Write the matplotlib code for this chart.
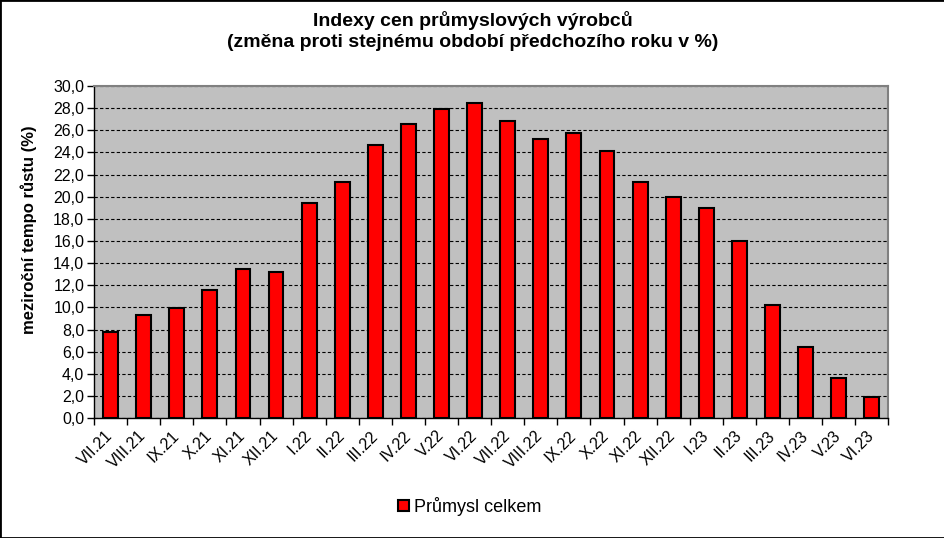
import numpy as np
import matplotlib.pyplot as plt
from matplotlib.patches import Rectangle

plt.rcParams['font.family'] = ['Liberation Sans', 'DejaVu Sans']

months = ['VII.21', 'VIII.21', 'IX.21', 'X.21', 'XI.21', 'XII.21',
          'I.22', 'II.22', 'III.22', 'IV.22', 'V.22', 'VI.22',
          'VII.22', 'VIII.22', 'IX.22', 'X.22', 'XI.22', 'XII.22',
          'I.23', 'II.23', 'III.23', 'IV.23', 'V.23', 'VI.23']
prumysl = [7.8, 9.3, 9.9, 11.6, 13.5, 13.2,
           19.4, 21.3, 24.7, 26.6, 27.9, 28.5,
           26.8, 25.2, 25.8, 24.1, 21.3, 20.0,
           19.0, 16.0, 10.2, 6.4, 3.6, 1.9]
yticks = np.arange(0, 30.1, 2)

fig = plt.figure(figsize=(9.45, 5.38), dpi=100)
ax = fig.add_axes([0.0995, 0.223, 0.8405, 0.617])
ax.set_facecolor('#C0C0C0')

x = np.arange(len(months))
ax.bar(x, prumysl, width=0.45, color='#FF0000', edgecolor='black',
       linewidth=1.5, label='Průmysl celkem', zorder=3)

ax.set_xlim(-0.5, len(months) - 0.5)
ax.set_ylim(0, 30)
ax.set_yticks(yticks)
ax.set_yticklabels([f'{v:.1f}'.replace('.', ',') for v in yticks], fontsize=11.5)
ax.yaxis.grid(True, color='black', linestyle=(0, (3, 2)), linewidth=0.8, zorder=1)
ax.set_axisbelow(True)

ax.set_xticks(x)
ax.set_xticklabels(months, rotation=45, ha='right', va='center',
                   rotation_mode='anchor', fontsize=11.5)
ax.tick_params(axis='x', which='major', length=0, pad=11)
ax.set_xticks(np.arange(-0.5, len(months)), minor=True)
ax.tick_params(axis='x', which='minor', length=5, width=1, color='black')
ax.tick_params(axis='y', length=5, width=1, color='black', pad=2)

for s in ['top', 'right']:
    ax.spines[s].set_color('#808080')
    ax.spines[s].set_linewidth(1.5)
for s in ['left', 'bottom']:
    ax.spines[s].set_color('black')
    ax.spines[s].set_linewidth(1)

ax.set_ylabel('meziroční tempo růstu (%)', fontsize=12, fontweight='bold')
ax.yaxis.set_label_coords(-0.072, 0.566)

fig.text(0.5, 0.98, 'Indexy cen průmyslových výrobců\n(změna proti stejnému období předchozího roku v %)',
         ha='center', va='top', fontsize=14, fontweight='bold', linespacing=1.3)

fig.legend(loc='center', bbox_to_anchor=(0.497, 0.059), frameon=False, fontsize=13,
           handlelength=0.6, handleheight=0.6, handletextpad=0.25)

fig.patches.append(Rectangle((0, 0), 1, 1, transform=fig.transFigure, fill=False,
                             edgecolor='black', linewidth=2))

fig.savefig('out.png', dpi=100)
